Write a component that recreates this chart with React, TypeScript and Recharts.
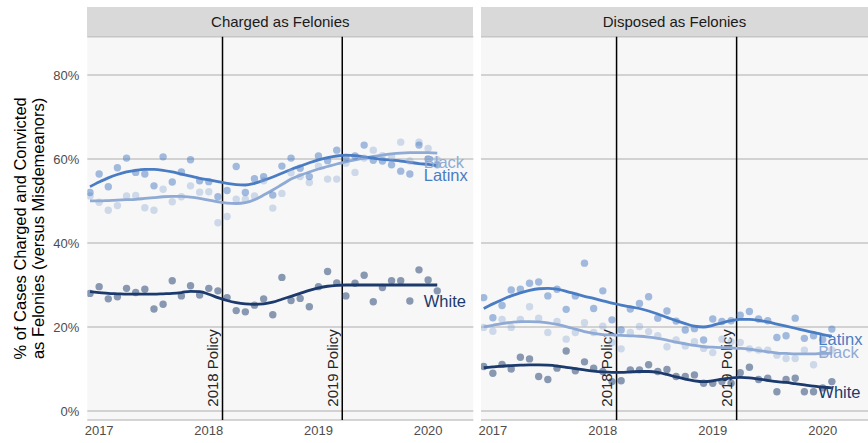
import React from 'react';
import { ComposedChart, Line, Scatter, XAxis, YAxis, CartesianGrid, ReferenceLine } from 'recharts';

// monthly observations, Dec 2016 - Feb 2020
const MONTHS = [
  '2016-12',
  '2017-01', '2017-02', '2017-03', '2017-04', '2017-05', '2017-06', '2017-07', '2017-08', '2017-09', '2017-10', '2017-11', '2017-12',
  '2018-01', '2018-02', '2018-03', '2018-04', '2018-05', '2018-06', '2018-07', '2018-08', '2018-09', '2018-10', '2018-11', '2018-12',
  '2019-01', '2019-02', '2019-03', '2019-04', '2019-05', '2019-06', '2019-07', '2019-08', '2019-09', '2019-10', '2019-11', '2019-12',
  '2020-01', '2020-02',
];

// Charged as Felonies
const CHARGED_LATINX = [52.0, 56.4, 53.4, 57.9, 60.2, 56.8, 56.4, 53.6, 60.5, 54.5, 56.9, 59.8, 54.8, 54.6, 51.0, 52.5, 58.2, 52.0, 55.3, 55.8, 51.4, 58.3, 60.2, 57.8, 55.8, 60.7, 59.6, 62.1, 60.2, 60.7, 63.3, 59.7, 59.5, 58.6, 57.1, 56.4, 63.3, 60.0, 58.6];
const CHARGED_BLACK = [51.2, 49.7, 47.8, 48.9, 51.2, 51.3, 48.4, 47.8, 52.8, 49.8, 51.0, 53.6, 52.1, 52.2, 44.8, 46.3, 50.4, 50.4, 51.2, 54.8, 48.3, 51.8, 56.7, 55.8, 54.4, 58.3, 55.2, 55.2, 59.0, 56.8, 60.2, 62.1, 60.8, 60.5, 64.0, 59.5, 64.0, 62.5, 59.8];
const CHARGED_WHITE = [28.0, 29.6, 26.7, 27.2, 29.2, 28.2, 29.0, 24.3, 25.4, 31.0, 27.4, 29.8, 27.6, 29.2, 28.6, 27.0, 23.9, 23.6, 25.2, 26.7, 22.9, 31.8, 26.3, 26.8, 24.8, 29.6, 33.2, 30.5, 27.4, 30.4, 32.3, 26.0, 29.4, 31.0, 31.0, 26.2, 33.6, 31.2, 28.6];
const CHARGED_LATINX_SMOOTH = [53.4, 54.5, 55.5, 56.3, 56.9, 57.3, 57.5, 57.5, 57.3, 56.9, 56.4, 55.9, 55.4, 55.0, 54.6, 54.2, 53.9, 53.8, 54.2, 54.9, 55.7, 56.6, 57.5, 58.3, 59.1, 59.8, 60.3, 60.7, 60.9, 60.8, 60.5, 60.2, 59.9, 59.7, 59.5, 59.2, 58.9, 58.7, 58.4];
const CHARGED_BLACK_SMOOTH = [50.0, 50.0, 50.1, 50.2, 50.3, 50.4, 50.6, 50.8, 51.0, 51.1, 51.1, 50.9, 50.6, 50.2, 49.8, 49.5, 49.4, 49.6, 50.3, 51.4, 52.6, 53.9, 55.2, 56.1, 56.9, 57.6, 58.2, 58.8, 59.3, 59.8, 60.2, 60.6, 60.9, 61.2, 61.4, 61.5, 61.5, 61.5, 61.4];
const CHARGED_WHITE_SMOOTH = [28.4, 28.2, 28.0, 27.9, 27.8, 27.8, 27.8, 27.8, 27.9, 28.0, 28.2, 28.5, 28.4, 27.8, 27.0, 26.3, 25.8, 25.5, 25.4, 25.5, 25.9, 26.6, 27.3, 28.0, 28.7, 29.3, 29.7, 29.9, 30.0, 30.0, 30.0, 30.0, 30.0, 30.0, 30.0, 30.0, 30.0, 30.0, 30.0];

// Disposed as Felonies
const DISPOSED_LATINX = [27.0, 22.2, 25.1, 28.8, 29.0, 30.4, 30.7, 27.4, 29.0, 24.2, 27.4, 35.2, 24.4, 28.6, 21.7, 19.3, 24.3, 25.6, 27.2, 22.1, 23.8, 21.4, 19.3, 19.6, 16.9, 21.9, 21.3, 21.5, 22.8, 23.7, 21.9, 21.5, 17.5, 17.9, 22.1, 17.3, 17.9, 17.0, 19.5];
const DISPOSED_BLACK = [19.9, 19.0, 21.8, 19.9, 21.8, 24.8, 22.1, 18.7, 21.3, 17.1, 18.7, 21.0, 18.7, 20.2, 16.3, 14.8, 18.7, 20.1, 18.9, 17.9, 15.3, 16.9, 15.5, 16.5, 14.9, 13.9, 17.1, 16.5, 16.3, 14.8, 14.5, 14.5, 13.3, 12.5, 12.5, 14.5, 11.0, 13.5, 14.5];
const DISPOSED_WHITE = [10.6, 9.0, 11.1, 10.0, 12.8, 12.4, 8.2, 7.5, 10.2, 14.3, 9.6, 11.7, 10.2, 9.4, 7.0, 7.2, 9.8, 9.8, 11.0, 9.4, 9.9, 8.2, 8.2, 8.6, 6.6, 6.6, 7.0, 6.6, 9.1, 10.4, 7.5, 7.8, 4.6, 7.5, 7.8, 4.6, 4.6, 5.5, 7.0];
const DISPOSED_LATINX_SMOOTH = [24.4, 25.5, 26.5, 27.4, 28.1, 28.7, 29.1, 29.2, 29.0, 28.5, 27.9, 27.3, 26.8, 26.2, 25.7, 25.2, 24.8, 24.4, 23.8, 23.1, 22.3, 21.5, 20.8, 20.2, 20.0, 20.4, 21.0, 21.5, 21.8, 21.8, 21.6, 21.2, 20.7, 20.2, 19.7, 19.2, 18.7, 18.2, 17.8];
const DISPOSED_BLACK_SMOOTH = [20.0, 20.4, 20.8, 21.1, 21.3, 21.3, 21.2, 21.0, 20.6, 20.1, 19.5, 18.9, 18.5, 18.2, 18.1, 18.0, 17.9, 17.8, 17.6, 17.3, 16.9, 16.4, 16.0, 15.6, 15.3, 15.2, 15.1, 15.0, 14.9, 14.7, 14.4, 14.1, 13.8, 13.7, 13.6, 13.6, 13.6, 13.7, 13.7];
const DISPOSED_WHITE_SMOOTH = [10.3, 10.5, 10.7, 10.8, 10.9, 11.0, 11.0, 10.9, 10.7, 10.4, 10.1, 9.8, 9.5, 9.3, 9.2, 9.2, 9.3, 9.4, 9.4, 9.2, 8.7, 8.1, 7.6, 7.2, 7.0, 7.2, 7.6, 7.9, 8.0, 7.9, 7.6, 7.3, 7.0, 6.8, 6.5, 6.2, 5.9, 5.7, 5.5];

const X_TICKS = [2017, 2018, 2019, 2020];
const Y_TICKS = [0, 20, 40, 60, 80];
const POLICIES = [
  { at: 2018.125, label: '2018 Policy' },
  { at: 2019.217, label: '2019 Policy' },
];

const FONT = '"Liberation Sans", Arial, Helvetica, sans-serif';
const X_DOMAIN: [number, number] = [2016.892, 2020.412];
const Y_DOMAIN: [number, number] = [-2.14, 89.1];

const GROUPS = [
  { key: 'white', name: 'White', color: '#1C3A6C', pointOpacity: 0.5 },
  { key: 'black', name: 'Black', color: '#8FAAD4', pointOpacity: 0.4 },
  { key: 'latinx', name: 'Latinx', color: '#4A7CC4', pointOpacity: 0.5 },
];

const toYear = (m: string) => {
  const [y, mo] = m.split('-').map(Number);
  return y + (mo - 1) / 12;
};

const buildRows = (latinx: number[], black: number[], white: number[], ls: number[], bs: number[], ws: number[]) =>
  MONTHS.map((m, i) => ({
    t: toYear(m),
    latinx: latinx[i],
    black: black[i],
    white: white[i],
    latinxSmooth: ls[i],
    blackSmooth: bs[i],
    whiteSmooth: ws[i],
  }));

const chargedRows = buildRows(CHARGED_LATINX, CHARGED_BLACK, CHARGED_WHITE, CHARGED_LATINX_SMOOTH, CHARGED_BLACK_SMOOTH, CHARGED_WHITE_SMOOTH);
const disposedRows = buildRows(DISPOSED_LATINX, DISPOSED_BLACK, DISPOSED_WHITE, DISPOSED_LATINX_SMOOTH, DISPOSED_BLACK_SMOOTH, DISPOSED_WHITE_SMOOTH);

const PolicyLabel = ({ viewBox, text }: any) => {
  if (!viewBox) return null;
  const x = viewBox.x - 4.5;
  const y = viewBox.y + viewBox.height - 13.3;
  return (
    <text x={x} y={y} transform={`rotate(-90 ${x} ${y})`} fontSize={15} fill="#262626" fontFamily={FONT}>
      {text}
    </text>
  );
};

const endLabel = (name: string, color: string, dy: number, last: number) => (p: any) => {
  if (p.index !== last) return null;
  return (
    <text x={p.x - 13.5} y={p.y + dy} dy="0.35em" fill={color} fontSize={16.5} fontFamily={FONT}>
      {name}
    </text>
  );
};

const Panel: React.FC<{
  title: string;
  rows: any[];
  labelDy: Record<string, number>;
  showY: boolean;
  left: number;
  width: number;
  marginLeft: number;
  yWidth: number;
  marginRight: number;
}> = ({ title, rows, labelDy, showY, left, width, marginLeft, yWidth, marginRight }) => {
  const plotLeft = marginLeft + (showY ? yWidth : 0);
  const plotWidth = width - plotLeft - marginRight;
  const last = rows.length - 1;
  return (
    <div style={{ position: 'absolute', left, top: 0, width, height: 443 }}>
      <div
        style={{
          position: 'absolute', left: plotLeft, top: 6.7, width: plotWidth, height: 30,
          background: '#d9d9d9', color: '#1a1a1a', fontFamily: FONT, fontSize: 15,
          display: 'flex', alignItems: 'center', justifyContent: 'center',
        }}
      >
        {title}
      </div>
      <ComposedChart width={width} height={443} data={rows} margin={{ top: 36.7, right: marginRight, bottom: 3, left: marginLeft }}>
        <CartesianGrid vertical={false} fill="#f7f7f7" stroke="#c6c6c6" strokeWidth={1.4} />
        <XAxis
          dataKey="t" type="number" domain={X_DOMAIN} ticks={X_TICKS} allowDataOverflow interval={0}
          axisLine={false} tickLine={false} tickSize={4} height={20}
          tick={{ fontSize: 13, fill: '#4d4d4d', fontFamily: FONT }}
        />
        <YAxis
          type="number" domain={Y_DOMAIN} ticks={Y_TICKS} allowDataOverflow hide={!showY} width={yWidth}
          axisLine={false} tickLine={false} tickFormatter={(v: number) => `${v}%`}
          tick={{ fontSize: 13, fill: '#4d4d4d', fontFamily: FONT }}
        />
        {GROUPS.map((g) => (
          <Scatter
            key={g.key}
            dataKey={g.key}
            isAnimationActive={false}
            shape={(p: any) => <circle cx={p.cx} cy={p.cy} r={3.7} fill={g.color} fillOpacity={g.pointOpacity} />}
          />
        ))}
        {POLICIES.map((p) => (
          <ReferenceLine key={p.label} x={p.at} stroke="#000" strokeWidth={1.5} label={<PolicyLabel text={p.label} />} />
        ))}
        {GROUPS.map((g) => (
          <Line
            key={g.key + 'Smooth'}
            type="monotone"
            dataKey={g.key + 'Smooth'}
            stroke={g.color}
            strokeWidth={2.8}
            dot={false}
            activeDot={false}
            isAnimationActive={false}
            label={endLabel(g.name, g.color, labelDy[g.name], last)}
          />
        ))}
      </ComposedChart>
    </div>
  );
};

export default function App() {
  return (
    <div style={{ position: 'fixed', left: 0, top: 0, width: 868, height: 443, background: '#fff', overflow: 'hidden' }}>
      <svg width={60} height={443} style={{ position: 'absolute', left: 0, top: 0 }}>
        <text transform="translate(25.8,228.4) rotate(-90)" textAnchor="middle" fontSize={16.5} fill="#000" fontFamily={FONT}>
          % of Cases Charged and Convicted
        </text>
        <text transform="translate(44.3,228.4) rotate(-90)" textAnchor="middle" fontSize={16.5} fill="#000" fontFamily={FONT}>
          as Felonies (versus Misdemeanors)
        </text>
      </svg>
      <Panel
        title="Charged as Felonies"
        rows={chargedRows}
        labelDy={{ Black: 9.2, Latinx: 10, White: 16.7 }}
        showY
        left={0}
        width={474}
        marginLeft={40}
        yWidth={47.3}
        marginRight={0.7}
      />
      <Panel
        title="Disposed as Felonies"
        rows={disposedRows}
        labelDy={{ Latinx: 2.8, Black: -1.2, White: 4.4 }}
        showY={false}
        left={461}
        width={407}
        marginLeft={20}
        yWidth={0}
        marginRight={0}
      />
    </div>
  );
}
